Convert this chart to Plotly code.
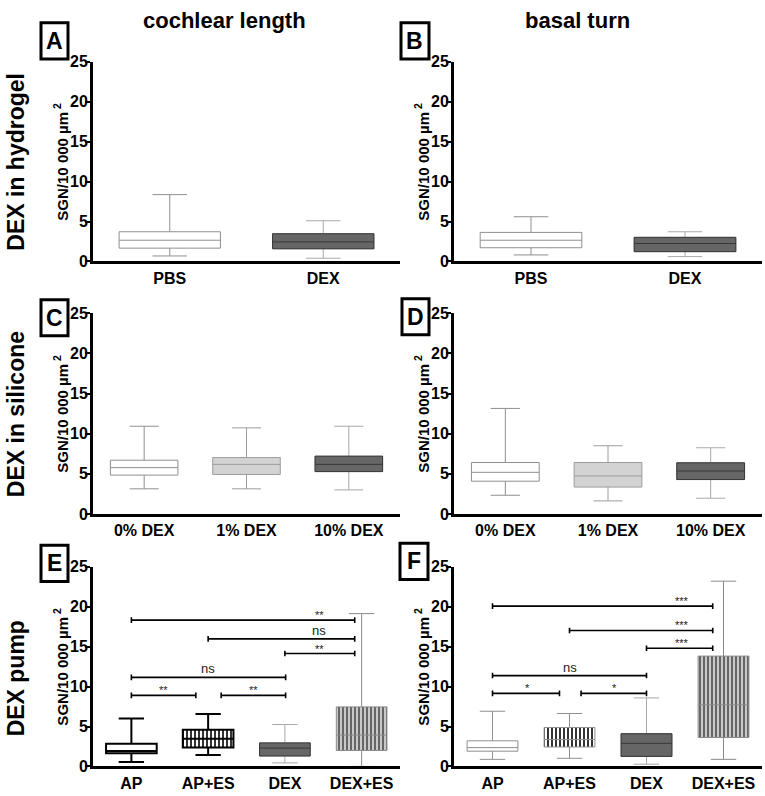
import plotly.graph_objects as go

# ---------------- data ----------------
cats_A = ["PBS", "DEX"]
lo_A = [0.69, 0.41]
q1_A = [1.67, 1.59]
med_A = [2.66, 2.45]
q3_A = [3.72, 3.47]
hi_A = [8.37, 5.10]

cats_B = ["PBS", "DEX"]
lo_B = [0.82, 0.61]
q1_B = [1.72, 1.23]
med_B = [2.66, 2.25]
q3_B = [3.64, 3.02]
hi_B = [5.60, 3.72]

cats_C = ["0% DEX", "1% DEX", "10% DEX"]
lo_C = [3.13, 3.13, 3.00]
q1_C = [4.84, 4.92, 5.28]
med_C = [5.77, 6.18, 6.18]
q3_C = [6.70, 7.03, 7.20]
hi_C = [10.93, 10.73, 10.93]

cats_D = ["0% DEX", "1% DEX", "10% DEX"]
lo_D = [2.33, 1.63, 1.96]
q1_D = [4.08, 3.35, 4.29]
med_D = [5.19, 4.74, 5.35]
q3_D = [6.41, 6.41, 6.37]
hi_D = [13.15, 8.50, 8.25]

cats_E = ["AP", "AP+ES", "DEX", "DEX+ES"]
lo_E = [0.57, 1.43, 0.45, 0.00]
q1_E = [1.64, 2.38, 1.31, 2.00]
med_E = [1.93, 3.48, 2.30, 3.93]
q3_E = [2.83, 4.59, 2.95, 7.46]
hi_E = [6.02, 6.56, 5.25, 19.14]

cats_F = ["AP", "AP+ES", "DEX", "DEX+ES"]
lo_F = [0.89, 1.02, 0.28, 0.89]
q1_F = [1.91, 2.44, 1.26, 3.62]
med_F = [2.36, 3.37, 2.89, 7.72]
q3_F = [3.21, 4.88, 4.10, 13.82]
hi_F = [6.91, 6.63, 8.58, 23.20]

# significance brackets: (from index, to index, y value, label, label x index)
sig_E_from = [0, 1, 2, 0, 0, 1.17]
sig_E_to = [2.91, 2.91, 2.91, 2.01, 0.84, 2.01]
sig_E_y = [18.32, 15.98, 14.14, 11.15, 8.90, 8.90]
sig_E_lab = ["**", "ns", "**", "ns", "**", "**"]
sig_E_labx = [2.45, 2.45, 2.45, 1.0, 0.42, 1.59]

sig_F_from = [0, 1, 2, 0, 0, 1.15]
sig_F_to = [2.86, 2.86, 2.86, 2.0, 0.87, 2.0]
sig_F_y = [20.08, 17.03, 14.80, 11.38, 9.15, 9.15]
sig_F_lab = ["***", "***", "***", "ns", "*", "*"]
sig_F_labx = [2.46, 2.46, 2.46, 1.0, 0.46, 1.59]

y_ticks = [0, 5, 10, 15, 20, 25]
col_titles = ["cochlear length", "basal turn"]
row_titles = ["DEX in hydrogel", "DEX in silicone", "DEX pump"]
y_title = "SGN/10 000 µm<sup> 2</sup>"

# ---------------- styles ----------------
STY = {
    "white": dict(fill="white", line="#8f8f8f", lw=1),
    "light": dict(fill="#d3d3d3", line="#9c9c9c", lw=1),
    "dark": dict(fill="#666666", line="#a8a8a8", lw=1, med="#383838"),
    "bw": dict(fill="white", line="black", lw=2),
    "bstripe": dict(fill="rgba(0,0,0,0)", line="black", lw=2, pat="black", sol=0.4, size=4),
    "gbstripe": dict(fill="rgba(0,0,0,0)", line="#8f8f8f", lw=1, pat="black", sol=0.4, size=4),
    "gstripe": dict(fill="rgba(0,0,0,0)", line="#8a8a8a", lw=1, pat="#666666", sol=0.68, size=4),
}

FONT = "Liberation Sans, Arial, sans-serif"
W, H = 765, 796


def fx(x):
    return x / W


def fy(y):
    return 1 - y / H


def bold(t):
    return f"<b>{t}</b>"


col_px = [(93, 400), (454, 762)]
row_px = [(55, 259), (312, 517), (571, 775)]

panels = [
    dict(c=cats_A, lo=lo_A, q1=q1_A, me=med_A, q3=q3_A, hi=hi_A, sty=["white", "dark"], r=0, col=0,
         L="A", box=(41, 15, 68, 52), ww=0.34),
    dict(c=cats_B, lo=lo_B, q1=q1_B, me=med_B, q3=q3_B, hi=hi_B, sty=["white", "dark"], r=0, col=1,
         L="B", box=(401, 15, 429, 52), ww=0.34),
    dict(c=cats_C, lo=lo_C, q1=q1_C, me=med_C, q3=q3_C, hi=hi_C, sty=["white", "light", "dark"], r=1, col=0,
         L="C", box=(41, 298, 68, 335), ww=0.43),
    dict(c=cats_D, lo=lo_D, q1=q1_D, me=med_D, q3=q3_D, hi=hi_D, sty=["white", "light", "dark"], r=1, col=1,
         L="D", box=(402, 297, 429, 334), ww=0.43),
    dict(c=cats_E, lo=lo_E, q1=q1_E, me=med_E, q3=q3_E, hi=hi_E, sty=["bw", "bstripe", "dark", "gstripe"], r=2,
         col=0, L="E", box=(41, 549, 68, 586), ww=0.5,
         sig=(sig_E_from, sig_E_to, sig_E_y, sig_E_lab, sig_E_labx)),
    dict(c=cats_F, lo=lo_F, q1=q1_F, me=med_F, q3=q3_F, hi=hi_F, sty=["white", "gbstripe", "dark", "gstripe"], r=2,
         col=1, L="F", box=(400, 547, 428, 584), ww=0.5,
         sig=(sig_F_from, sig_F_to, sig_F_y, sig_F_lab, sig_F_labx)),
]

fig = go.Figure()
shapes = []
annotations = []
layout_axes = {}
BW = 0.66

for n, p in enumerate(panels, start=1):
    xa, ya = f"x{n}", f"y{n}"
    for i, cat in enumerate(p["c"]):
        s = STY[p["sty"][i]]
        if "pat" in s:
            fig.add_trace(go.Bar(
                x=[cat], y=[p["q3"][i] - p["q1"][i]], base=[p["q1"][i]], width=BW,
                marker=dict(color="white", line=dict(width=0),
                            pattern=dict(shape="|", fgcolor=s["pat"], bgcolor="white", fgopacity=1,
                                         size=s["size"], solidity=s["sol"])),
                xaxis=xa, yaxis=ya, showlegend=False, hoverinfo="skip"))
        fig.add_trace(go.Box(
            x=[cat], q1=[p["q1"][i]], median=[p["me"][i]], q3=[p["q3"][i]],
            lowerfence=[p["lo"][i]], upperfence=[p["hi"][i]],
            width=BW, whiskerwidth=p["ww"], fillcolor=s["fill"],
            line=dict(color=s["line"], width=s["lw"]), boxpoints=False,
            xaxis=xa, yaxis=ya, showlegend=False))
        if "med" in s:
            fig.add_trace(go.Box(
                x=[cat], q1=[p["q1"][i]], median=[p["me"][i]], q3=[p["q3"][i]],
                lowerfence=[p["q1"][i]], upperfence=[p["q3"][i]],
                width=BW, whiskerwidth=0, fillcolor=s["fill"],
                line=dict(color=s["med"], width=1), boxpoints=False,
                xaxis=xa, yaxis=ya, showlegend=False))

    x0, x1 = col_px[p["col"]]
    y0, y1 = row_px[p["r"]]
    layout_axes[f"xaxis{n}"] = dict(
        domain=[fx(x0), fx(x1)], anchor=ya, type="category",
        categoryorder="array", categoryarray=p["c"], range=[-0.5, len(p["c"]) - 0.5],
        tickmode="array", tickvals=p["c"], ticktext=[bold(c) for c in p["c"]],
        showline=True, linewidth=3, linecolor="black", ticks="", showgrid=False, zeroline=False,
        tickfont=dict(family=FONT, size=16, color="black"), fixedrange=True)
    layout_axes[f"yaxis{n}"] = dict(
        domain=[fy(y1), fy(y0)], anchor=xa, range=[0, 25],
        tickmode="array", tickvals=y_ticks, ticktext=[bold(v) for v in y_ticks],
        showline=True, linewidth=3, linecolor="black", ticks="outside", ticklen=5, tickwidth=2,
        tickcolor="black", showgrid=False, zeroline=False, ticklabelstandoff=-6,
        tickfont=dict(family=FONT, size=16, color="black"), fixedrange=True)

    # y-axis title
    annotations.append(dict(
        x=fx(x0 - 32), y=fy((y0 + y1) / 2), xref="paper", yref="paper", text=bold(y_title),
        textangle=-90, showarrow=False, xanchor="center", yanchor="middle",
        font=dict(family=FONT, size=15, color="black")))

    # panel letter box
    bx0, by0, bx1, by1 = p["box"]
    shapes.append(dict(type="rect", xref="paper", yref="paper", x0=fx(bx0), x1=fx(bx1),
                       y0=fy(by1), y1=fy(by0), line=dict(color="black", width=3)))
    annotations.append(dict(
        x=fx((bx0 + bx1) / 2), y=fy((by0 + by1) / 2), xref="paper", yref="paper", text=bold(p["L"]),
        showarrow=False, xanchor="center", yanchor="middle",
        font=dict(family=FONT, size=23, color="black")))

    # significance brackets
    if "sig" in p:
        fr, to, yy, lab, lx = p["sig"]
        for a, b, yv, t, tx in zip(fr, to, yy, lab, lx):
            shapes.append(dict(type="line", xref=xa, yref=ya, x0=a, x1=b, y0=yv, y1=yv,
                               line=dict(color="black", width=1.6)))
            for e in (a, b):
                shapes.append(dict(type="line", xref=xa, yref=ya, x0=e, x1=e, y0=yv - 0.35, y1=yv + 0.35,
                                   line=dict(color="black", width=1.6)))
            star = t.startswith("*")
            annotations.append(dict(
                x=tx, y=yv, xref=xa, yref=ya, text=t, showarrow=False,
                xanchor="center", yanchor="bottom", yshift=-3 if star else -1,
                font=dict(family=FONT, size=11 if star else 13, color="#222222")))

# column titles
for cx, t in zip([224, 577], col_titles):
    annotations.append(dict(x=fx(cx), y=fy(13), xref="paper", yref="paper", text=bold(t), showarrow=False,
                            xanchor="center", yanchor="middle",
                            font=dict(family=FONT, size=22, color="black")))
# row titles
for cy, t in zip([157, 415, 685], row_titles):
    annotations.append(dict(x=fx(16), y=fy(cy), xref="paper", yref="paper", text=bold(t), showarrow=False,
                            textangle=-90, xanchor="center", yanchor="middle",
                            font=dict(family=FONT, size=23, color="black")))

fig.update_layout(
    width=W, height=H, margin=dict(l=0, r=0, t=0, b=0),
    paper_bgcolor="white", plot_bgcolor="white",
    barmode="overlay", boxmode="overlay", showlegend=False,
    shapes=shapes, annotations=annotations, **layout_axes)

fig.write_html("out.html", config={"displayModeBar": False},
               post_script="document.body.style.margin='0';")
